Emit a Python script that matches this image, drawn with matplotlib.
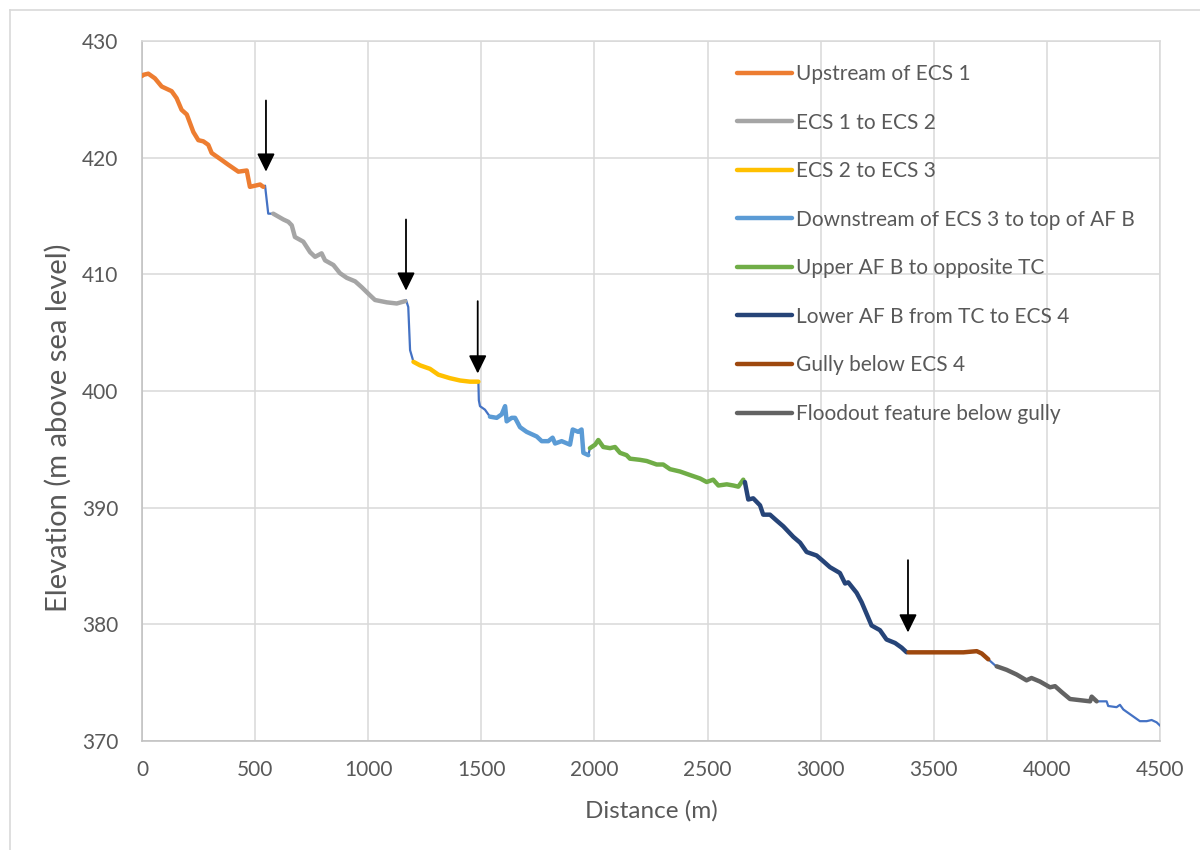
import numpy as np
import matplotlib.pyplot as plt
from matplotlib.lines import Line2D

plt.rcParams['font.family'] = ['Lato', 'DejaVu Sans']

# long profile (distance in m, elevation in m asl)
dist = [0, 6, 28, 57, 87, 131, 153, 175, 198, 227, 249, 271, 293, 308, 345,
        381, 426, 463, 477, 500, 522, 536, 544, 558, 580, 625, 647, 662, 676,
        713, 743, 765, 794, 809, 846, 875, 905, 942, 971, 1008, 1030, 1082,
        1126, 1163, 1167, 1177, 1185, 1200, 1229, 1273, 1310, 1361, 1406,
        1450, 1487, 1489, 1494, 1516, 1538, 1568, 1590, 1605, 1612, 1634,
        1649, 1671, 1700, 1745, 1767, 1796, 1815, 1826, 1855, 1892, 1904,
        1928, 1943, 1951, 1973, 1980, 2003, 2017, 2039, 2069, 2091, 2113,
        2142, 2157, 2201, 2231, 2275, 2304, 2334, 2378, 2422, 2452, 2467,
        2496, 2525, 2548, 2585, 2614, 2636, 2658, 2665, 2680, 2702, 2732,
        2746, 2776, 2805, 2835, 2879, 2909, 2938, 2982, 3012, 3041, 3085,
        3108, 3122, 3159, 3181, 3203, 3225, 3262, 3291, 3329, 3358, 3380,
        3388, 3483, 3557, 3631, 3690, 3712, 3741, 3770, 3778, 3822, 3866,
        3910, 3932, 3969, 4014, 4036, 4065, 4102, 4146, 4191, 4198, 4220,
        4264, 4271, 4308, 4323, 4338, 4382, 4411, 4441, 4463, 4485, 4507]
elev = [427.0, 427.1, 427.2, 426.8, 426.1, 425.7, 425.1, 424.1, 423.7, 422.2,
        421.5, 421.4, 421.1, 420.4, 419.9, 419.4, 418.8, 418.9, 417.5, 417.6,
        417.7, 417.5, 417.6, 415.2, 415.2, 414.7, 414.5, 414.2, 413.2, 412.8,
        411.9, 411.5, 411.8, 411.2, 410.8, 410.1, 409.7, 409.4, 408.9, 408.2,
        407.8, 407.6, 407.5, 407.7, 407.8, 407.2, 403.5, 402.5, 402.2, 401.9,
        401.4, 401.1, 400.9, 400.8, 400.8, 399.2, 398.7, 398.4, 397.8, 397.7,
        398.0, 398.7, 397.4, 397.7, 397.7, 396.9, 396.5, 396.1, 395.7, 395.7,
        396.0, 395.5, 395.7, 395.4, 396.7, 396.5, 396.7, 394.7, 394.5, 395.1,
        395.4, 395.8, 395.2, 395.1, 395.2, 394.7, 394.5, 394.2, 394.1, 394.0,
        393.7, 393.7, 393.3, 393.1, 392.8, 392.6, 392.5, 392.2, 392.4, 391.9,
        392.0, 391.9, 391.8, 392.4, 392.2, 390.7, 390.8, 390.2, 389.4, 389.4,
        388.9, 388.4, 387.5, 387.0, 386.2, 385.9, 385.4, 384.9, 384.4, 383.5,
        383.6, 382.7, 381.9, 380.9, 379.9, 379.5, 378.7, 378.4, 378.0, 377.6,
        377.6, 377.6, 377.6, 377.6, 377.7, 377.5, 377.0, 376.5, 376.4, 376.1,
        375.7, 375.2, 375.4, 375.1, 374.6, 374.7, 374.2, 373.6, 373.5, 373.4,
        373.8, 373.4, 373.4, 373.0, 372.9, 373.1, 372.7, 372.1, 371.7, 371.7,
        371.8, 371.6, 371.2]

# reach sections (start, end distance) and legend labels
labels = ["Upstream of ECS 1", "ECS 1 to ECS 2", "ECS 2 to ECS 3",
          "Downstream of ECS 3 to top of AF B", "Upper AF B to opposite TC",
          "Lower AF B from TC to ECS 4", "Gully below ECS 4",
          "Floodout feature below gully"]
starts = [0, 580, 1200, 1530, 1975, 2660, 3385, 3775]
ends = [536, 1163, 1487, 1975, 2660, 3385, 3745, 4225]
colors = ["#ED7D31", "#A5A5A5", "#FFC000", "#5B9BD5", "#70AD47", "#264478",
          "#9E480E", "#636363"]

# structure locations marked with arrows: x, top of shaft, tip
arrow_x = [548, 1167, 1484, 3386]
arrow_top = [424.9, 414.7, 407.7, 385.5]
arrow_tip = [418.8, 408.6, 401.5, 379.3]

dist = np.array(dist)
elev = np.array(elev)

fig = plt.figure(figsize=(12, 8.5), dpi=100)
ax = fig.add_axes([142 / 1200, 1 - 741 / 850, 1018 / 1200, 700 / 850])

ax.plot(dist, elev, color="#4472C4", lw=1.6, zorder=3)
for lab, s, e, c in zip(labels, starts, ends, colors):
    m = (dist >= s) & (dist <= e)
    ax.plot(dist[m], elev[m], color=c, lw=3.2, label=lab, zorder=4,
            solid_capstyle="round", solid_joinstyle="round")

for x, t, tip in zip(arrow_x, arrow_top, arrow_tip):
    ax.annotate("", xy=(x, tip), xytext=(x, t),
                arrowprops=dict(arrowstyle="-|>,head_length=0.55,head_width=0.27",
                                mutation_scale=20, color="black", lw=1.3,
                                shrinkA=0, shrinkB=0), zorder=5)

ax.set_xlim(0, 4500)
ax.set_ylim(370, 430)
ax.set_xticks(np.arange(0, 4501, 500))
ax.set_yticks(np.arange(370, 431, 10))
ax.grid(True, color="#D9D9D9", lw=1.1)
ax.set_axisbelow(True)
for sp in ax.spines.values():
    sp.set_color("#D9D9D9")
    sp.set_linewidth(1.1)
ax.spines["left"].set_color("#BFBFBF")
ax.spines["bottom"].set_color("#BFBFBF")
ax.tick_params(length=0, labelsize=15, labelcolor="#595959")
ax.tick_params(axis="y", pad=17)
ax.tick_params(axis="x", pad=14)
ax.set_xlabel("Distance (m)", fontsize=17.5, color="#595959", labelpad=14)
ax.set_ylabel("Elevation (m above sea level)", fontsize=21, color="#595959")
ax.yaxis.set_label_coords(-0.069, 0.447)

ax.legend(loc="upper left", bbox_to_anchor=(737 / 1200, 1 - 64 / 850),
          bbox_transform=fig.transFigure, frameon=False, fontsize=15,
          handlelength=2.65, handletextpad=0.2, labelspacing=1.37,
          borderpad=0, borderaxespad=0, labelcolor="#595959")

# thin outer chart border (top and left visible in the source)
fig.add_artist(Line2D([10 / 1200, 10 / 1200], [0, 1 - 10 / 850],
                      color="#D9D9D9", lw=1.2))
fig.add_artist(Line2D([10 / 1200, 1], [1 - 10 / 850, 1 - 10 / 850],
                      color="#D9D9D9", lw=1.2))

fig.savefig("out.png", dpi=100)
